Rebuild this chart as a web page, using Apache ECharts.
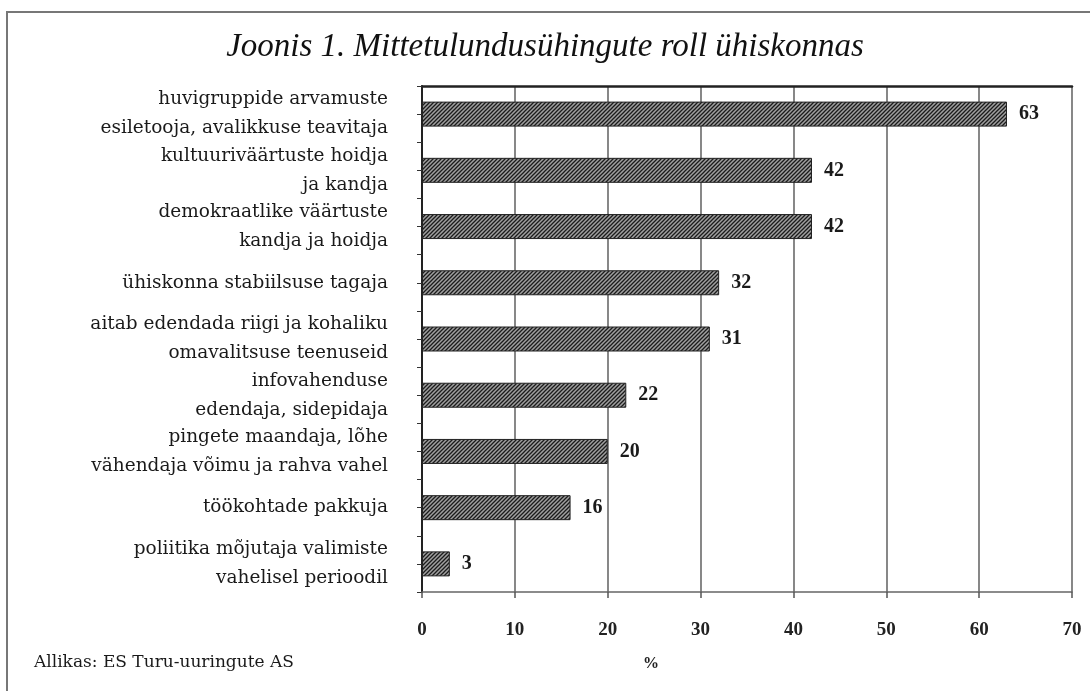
<!DOCTYPE html>
<html>
<head>
<meta charset="utf-8">
<script src="https://cdn.jsdelivr.net/npm/echarts@6/dist/echarts.min.js"></script>
<style>
  html, body { margin: 0; padding: 0; background: #fff; }
  #main { width: 1090px; height: 691px; }
</style>
</head>
<body>
<div id="main"></div>
<script>
var chartDom = document.getElementById('main');
var myChart = echarts.init(chartDom);
var option;

// kategooriad ülalt alla
const categories = [
  'huvigruppide arvamuste\nesiletooja, avalikkuse teavitaja',
  'kultuuriväärtuste hoidja\nja kandja',
  'demokraatlike väärtuste\nkandja ja hoidja',
  'ühiskonna stabiilsuse tagaja',
  'aitab edendada riigi ja kohaliku\nomavalitsuse teenuseid',
  'infovahenduse\nedendaja, sidepidaja',
  'pingete maandaja, lõhe\nvähendaja võimu ja rahva vahel',
  'töökohtade pakkuja',
  'poliitika mõjutaja valimiste\nvahelisel perioodil'
];
// protsendid
const values = [63, 42, 42, 32, 31, 22, 20, 16, 3];

const serif = '"Liberation Serif", "DejaVu Serif", serif';
const wideSerif = '"DejaVu Serif", "Liberation Serif", serif';

// viirutatud muster tulpadele
const makeHatch = () => {
  const c = document.createElement('canvas');
  c.width = 4;
  c.height = 4;
  const ctx = c.getContext('2d');
  ctx.fillStyle = '#a0a0a0';
  ctx.fillRect(0, 0, 4, 4);
  ctx.strokeStyle = '#1c1c1c';
  ctx.lineWidth = 1.3;
  ctx.beginPath();
  ctx.moveTo(0, 4); ctx.lineTo(4, 0);
  ctx.moveTo(-1, 1); ctx.lineTo(1, -1);
  ctx.moveTo(3, 5); ctx.lineTo(5, 3);
  ctx.stroke();
  return c;
};

option = {
  animation: false,
  backgroundColor: '#fff',
  title: {
    text: 'Joonis 1. Mittetulundusühingute roll ühiskonnas',
    left: 'center',
    top: 26,
    textStyle: {
      fontFamily: serif,
      fontStyle: 'italic',
      fontWeight: 'normal',
      fontSize: 33,
      color: '#111'
    }
  },
  graphic: [
    {
      type: 'rect',
      shape: { x: 7, y: 12, width: 1100, height: 700 },
      style: { fill: 'none', stroke: '#777', lineWidth: 2 },
      silent: true
    },
    {
      type: 'text',
      left: 643,
      top: 656,
      style: { text: '%', font: 'bold 16px ' + serif, fill: '#222' }
    },
    {
      type: 'text',
      left: 34,
      top: 654,
      style: { text: 'Allikas: ES Turu-uuringute AS', font: '17px ' + wideSerif, fill: '#1a1a1a' }
    }
  ],
  grid: {
    left: 422,
    right: 18,
    top: 86,
    bottom: 99,
    containLabel: false
  },
  xAxis: [
    {
      type: 'value',
      min: 0,
      max: 70,
      interval: 10,
      axisLine: { show: true, lineStyle: { color: '#666', width: 1.5 } },
      axisTick: { show: true, length: 6, lineStyle: { color: '#555', width: 1.5 } },
      axisLabel: {
        margin: 29,
        fontFamily: serif,
        fontWeight: 'bold',
        fontSize: 19,
        color: '#222'
      },
      splitLine: { show: true, lineStyle: { color: '#6a6a6a', width: 1.6 } }
    },
    {
      type: 'value',
      position: 'top',
      min: 0,
      max: 70,
      axisLine: { show: true, onZero: false, lineStyle: { color: '#222', width: 2.5 } },
      axisTick: { show: false },
      axisLabel: { show: false },
      splitLine: { show: false }
    }
  ],
  yAxis: [
    {
      type: 'category',
      data: categories,
      inverse: true,
      axisLine: { show: true, lineStyle: { color: '#222', width: 2 } },
      axisTick: { show: true, length: 5, lineStyle: { color: '#333' } },
      axisLabel: {
        interval: 0,
        showMinLabel: true,
        showMaxLabel: true,
        hideOverlap: false,
        margin: 34,
        padding: [7, 0, 0, 0],
        fontFamily: wideSerif,
        fontSize: 18.5,
        lineHeight: 29,
        color: '#1a1a1a',
        align: 'right'
      }
    },
    {
      // keskmised kriipsud
      type: 'category',
      data: categories,
      inverse: true,
      position: 'left',
      axisLine: { show: false },
      axisTick: { show: true, alignWithLabel: true, length: 5, lineStyle: { color: '#333' } },
      axisLabel: { show: false },
      splitLine: { show: false }
    }
  ],
  series: [
    {
      type: 'bar',
      data: values,
      xAxisIndex: 0,
      yAxisIndex: 0,
      barWidth: 25,
      itemStyle: {
        color: { image: makeHatch(), repeat: 'repeat' },
        borderColor: '#222',
        borderWidth: 1
      },
      label: {
        show: true,
        position: 'right',
        distance: 12,
        fontFamily: serif,
        fontWeight: 'bold',
        fontSize: 20,
        color: '#1a1a1a'
      }
    }
  ]
};

option && myChart.setOption(option);
</script>
</body>
</html>
